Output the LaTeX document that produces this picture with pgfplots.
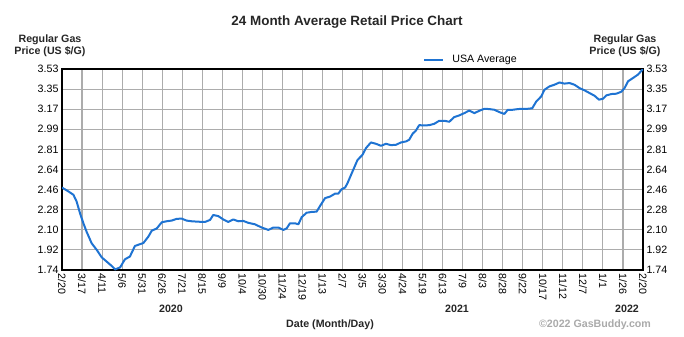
\documentclass[border=0pt]{standalone}
\usepackage{fontspec}
\setmainfont{Liberation Sans}
\usepackage{pgfplots}
\pgfplotsset{compat=1.18}
\usepackage{pgfplotstable}
\definecolor{lineblue}{RGB}{30,115,210}
\definecolor{gridgray}{RGB}{172,172,172}
\definecolor{wmgray}{RGB}{170,170,170}
\pgfplotstableread{
x y
0 2.474
0.32 2.44
0.57 2.41
0.73 2.35
0.90 2.245
1.06 2.16
1.23 2.08
1.48 1.978
1.73 1.92
1.98 1.853
2.23 1.815
2.48 1.776
2.65 1.745
2.90 1.763
3.14 1.835
3.39 1.86
3.64 1.954
3.89 1.97
4.06 1.98
4.31 2.037
4.48 2.09
4.73 2.11
4.98 2.165
5.22 2.174
5.47 2.18
5.72 2.195
5.97 2.198
6.22 2.18
6.47 2.174
6.81 2.17
7.14 2.168
7.39 2.186
7.55 2.23
7.80 2.22
8.05 2.19
8.30 2.168
8.55 2.19
8.80 2.174
9.05 2.177
9.30 2.16
9.63 2.147
9.97 2.118
10.30 2.097
10.55 2.118
10.80 2.118
11.05 2.097
11.21 2.11
11.38 2.156
11.63 2.156
11.80 2.147
11.96 2.21
12.21 2.25
12.46 2.257
12.71 2.26
12.88 2.31
13.13 2.38
13.38 2.394
13.63 2.42
13.79 2.42
13.96 2.46
14.13 2.474
14.25 2.513
14.5 2.617
14.75 2.72
15 2.766
15.17 2.825
15.42 2.876
15.67 2.864
15.92 2.846
16.17 2.864
16.42 2.852
16.67 2.855
16.92 2.876
17.17 2.885
17.33 2.90
17.5 2.953
17.67 2.983
17.83 3.03
18.08 3.027
18.33 3.03
18.58 3.042
18.83 3.069
19.08 3.069
19.33 3.06
19.58 3.102
19.83 3.117
20.08 3.137
20.33 3.16
20.58 3.137
20.83 3.158
21.08 3.176
21.33 3.173
21.58 3.167
21.83 3.146
22.08 3.13
22.25 3.167
22.5 3.167
22.75 3.173
23 3.176
23.25 3.176
23.47 3.18
23.67 3.24
23.92 3.286
24.08 3.345
24.33 3.375
24.58 3.39
24.83 3.41
25.08 3.40
25.33 3.405
25.58 3.39
25.83 3.36
26.08 3.34
26.33 3.316
26.58 3.292
26.8 3.257
27 3.265
27.17 3.295
27.42 3.307
27.67 3.31
27.92 3.328
28.08 3.36
28.25 3.42
28.5 3.45
28.75 3.48
29 3.53
}\gasdata
\begin{document}
\begin{tikzpicture}
\begin{axis}[
  scale only axis, width=581bp, height=201bp,
  at={(0,0)}, anchor=south west,
  xmin=0, xmax=29, ymin=1.74, ymax=3.53,
  ytick={1.74,1.919,2.098,2.277,2.456,2.635,2.814,2.993,3.172,3.351,3.53},
  yticklabels={1.74,1.92,2.10,2.28,2.46,2.64,2.81,2.99,3.17,3.35,3.53},
  hide x axis,
  axis y line*=right,
  major tick length=0pt,
  axis line style={line width=1.3bp},
  /pgf/number format/assume math mode=true,
  tick label style={font=\fontsize{10.7}{12}\selectfont},
]
\end{axis}
\begin{axis}[
  scale only axis, width=581bp, height=201bp,
  at={(0,0)}, anchor=south west,
  xmin=0, xmax=29, ymin=1.74, ymax=3.53,
  ytick={1.74,1.919,2.098,2.277,2.456,2.635,2.814,2.993,3.172,3.351,3.53},
  yticklabels={1.74,1.92,2.10,2.28,2.46,2.64,2.81,2.99,3.17,3.35,3.53},
  xtick={0,...,29},
  xticklabels={2/20,3/17,4/11,5/6,5/31,6/26,7/21,8/15,9/9,10/4,10/30,11/24,12/19,1/13,2/7,3/5,3/30,4/24,5/19,6/13,7/9,8/3,8/28,9/22,10/17,11/12,12/7,1/1,1/26,2/20},
  grid=major,
  major grid style={gridgray, line width=1.1bp},
  major tick length=0pt,
  /pgf/number format/assume math mode=true,
  tick label style={font=\fontsize{10.7}{12}\selectfont},
  xticklabel style={rotate=-90, anchor=west},
  axis line style={line width=1.3bp},
  legend style={at={(0.704,1.045)}, anchor=center, draw=none, fill=none,
    font=\fontsize{10.7}{12}\selectfont, inner sep=0pt},
  legend image code/.code={\draw[#1] (0bp,0bp) -- (19bp,0bp);},
]
\addplot[lineblue, line width=2bp, line join=round] table[x=x,y=y]{\gasdata};
\addlegendentry{\hspace{6bp}USA Average}
\end{axis}
\node[font=\bfseries\fontsize{13.5}{15}\selectfont, text=black!85] at (285bp,248bp) {24 Month Average Retail Price Chart};
\node[font=\bfseries\fontsize{10.7}{12.5}\selectfont, align=center, text=black!85] at (-12bp,224bp) {Regular Gas\\Price (US \$/G)};
\node[font=\bfseries\fontsize{10.7}{12.5}\selectfont, align=center, text=black!85] at (563bp,224bp) {Regular Gas\\Price (US \$/G)};
\node[font=\bfseries\fontsize{10.7}{12}\selectfont, text=black!85] at (109bp,-39bp) {2020};
\node[font=\bfseries\fontsize{10.7}{12}\selectfont, text=black!85] at (395bp,-39bp) {2021};
\node[font=\bfseries\fontsize{10.7}{12}\selectfont, text=black!85] at (565bp,-39bp) {2022};
\node[font=\bfseries\fontsize{10.7}{12}\selectfont, text=black!85] at (268bp,-55bp) {Date (Month/Day)};
\node[font=\bfseries\fontsize{10.7}{12}\selectfont, text=wmgray] at (533bp,-55bp) {©2022 GasBuddy.com};
\pgfresetboundingbox
\path (-62bp,-67bp) rectangle (622bp,270bp);
\end{tikzpicture}
\end{document}
